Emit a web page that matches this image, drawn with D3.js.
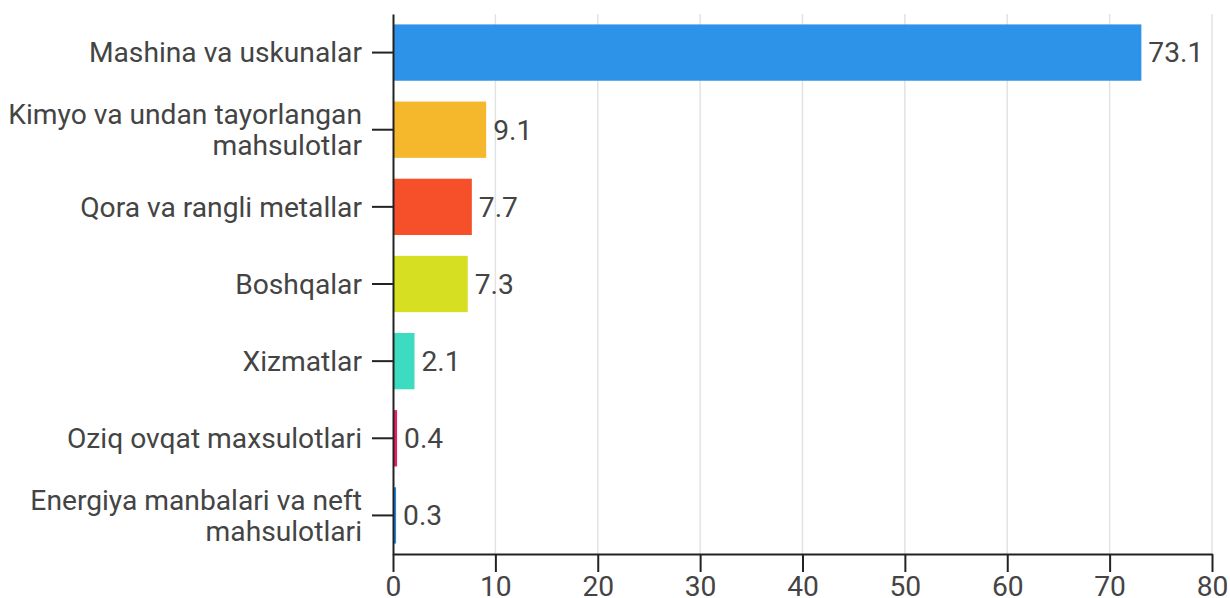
<!DOCTYPE html>
<html><head><meta charset="utf-8">
<script src="https://cdn.jsdelivr.net/npm/d3@7"></script>
<style>
body{margin:0;background:#fff;}
svg{display:block;font-family:Roboto, sans-serif;}
</style></head>
<body><svg id="chart" width="1230" height="598"></svg>
<script>
const categories = [
  ["Mashina va uskunalar"],
  ["Kimyo va undan tayorlangan", "mahsulotlar"],
  ["Qora va rangli metallar"],
  ["Boshqalar"],
  ["Xizmatlar"],
  ["Oziq ovqat maxsulotlari"],
  ["Energiya manbalari va neft", "mahsulotlari"]
];
const values = [73.1, 9.1, 7.7, 7.3, 2.1, 0.4, 0.3];
const colors = ["#2d93e8", "#f5b82d", "#f5502a", "#d6df21", "#3ddcc1", "#e91e63", "#1e88e5"];
const xTicks = [0, 10, 20, 30, 40, 50, 60, 70, 80];

const svg = d3.select("#chart");
const m = {left: 393, right: 18, top: 14, bottom: 44};
const W = 1230, H = 598;
const x = d3.scaleLinear().domain([0, 80]).range([m.left, W - m.right]);
const y = d3.scaleBand().domain(d3.range(values.length)).range([m.top, H - m.bottom]).paddingInner(0.27).paddingOuter(0.135);
const textColor = "#444";
const fs = 28.2;

// grid
svg.append("g").selectAll("line").data(xTicks.slice(1)).join("line")
  .attr("x1", d => x(d)).attr("x2", d => x(d))
  .attr("y1", m.top).attr("y2", H - m.bottom)
  .attr("stroke", "#e3e3e3").attr("stroke-width", 1.5);

// bars
svg.append("g").selectAll("rect").data(values).join("rect")
  .attr("x", x(0)).attr("y", (d, i) => y(i))
  .attr("width", d => x(d) - x(0)).attr("height", y.bandwidth())
  .attr("fill", (d, i) => colors[i]);

// value labels
svg.append("g").selectAll("text").data(values).join("text")
  .attr("x", d => x(d) + 7).attr("y", (d, i) => y(i) + y.bandwidth() / 2)
  .attr("dy", "0.35em").attr("font-size", fs).attr("fill", textColor)
  .text(d => d.toFixed(1));

// x axis
const xa = svg.append("g").attr("transform", `translate(0,${H - m.bottom})`)
  .call(d3.axisBottom(x).tickValues(xTicks).tickSize(18).tickPadding(4).tickSizeOuter(0));
xa.select(".domain").attr("stroke", "#222").attr("stroke-width", 2);
xa.selectAll(".tick line").attr("stroke", "#222").attr("stroke-width", 2);
xa.selectAll("text").attr("font-size", fs).attr("fill", textColor).attr("font-family", "Roboto, sans-serif");

// y axis
const ya = svg.append("g").attr("transform", `translate(${m.left},0)`)
  .call(d3.axisLeft(y).tickSize(21).tickFormat("").tickSizeOuter(0));
ya.select(".domain").attr("stroke", "#222").attr("stroke-width", 2);
ya.selectAll(".tick line").attr("stroke", "#222").attr("stroke-width", 2);

// y labels
const lg = svg.append("g");
categories.forEach((lines, i) => {
  const cy = y(i) + y.bandwidth() / 2;
  const t = lg.append("text").attr("text-anchor", "end").attr("font-size", fs).attr("fill", textColor);
  const lh = 31;
  lines.forEach((ln, j) => {
    t.append("tspan").attr("x", m.left - 31)
      .attr("y", cy + (j - (lines.length - 1) / 2) * lh).attr("dy", "0.35em").text(ln);
  });
});
</script></body></html>
